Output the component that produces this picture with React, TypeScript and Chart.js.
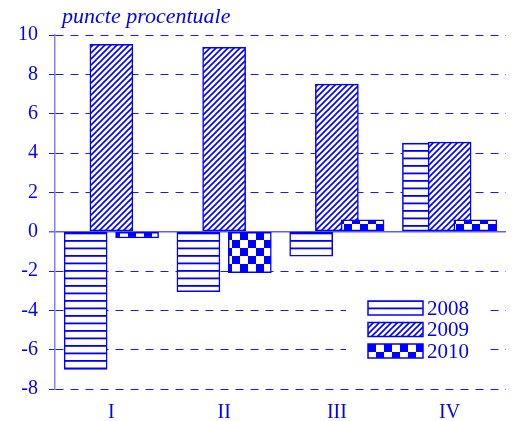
import React, { useEffect, useRef } from 'react';
import { Chart, registerables } from 'chart.js';

Chart.register(...registerables);

const categories = ['I', 'II', 'III', 'IV'];
const seriesNames = ['2008', '2009', '2010'];
const values2008 = [-7.0, -3.05, -1.25, 4.5];
const values2009 = [9.53, 9.37, 7.5, 4.55];
const values2010 = [-0.32, -2.08, 0.6, 0.6];
const yTicks = [10, 8, 6, 4, 2, 0, -2, -4, -6, -8];
const axisTitle = 'puncte procentuale';

const BLUE = '#0000ff';
const SERIF = '"Liberation Serif", "Times New Roman", serif';
const OFFSET = 0.228;

function makeTile(w: number, h: number, draw: (c: CanvasRenderingContext2D) => void) {
  const t = document.createElement('canvas');
  t.width = w;
  t.height = h;
  const c = t.getContext('2d')!;
  c.fillStyle = '#ffffff';
  c.fillRect(0, 0, w, h);
  draw(c);
  return t;
}

export default function App() {
  const ref = useRef<HTMLCanvasElement | null>(null);

  useEffect(() => {
    const canvas = ref.current!;
    const ctx = canvas.getContext('2d')!;

    const hTile = makeTile(4, 15, (c) => {
      c.fillStyle = BLUE;
      c.fillRect(0, 0, 4, 1.8);
      c.fillRect(0, 7.5, 4, 1.8);
    });
    const dTile = makeTile(6, 6, (c) => {
      c.strokeStyle = BLUE;
      c.lineWidth = 1.6;
      c.beginPath();
      c.moveTo(-1, 7);
      c.lineTo(7, -1);
      c.moveTo(-4, 4);
      c.lineTo(4, -4);
      c.moveTo(2, 10);
      c.lineTo(10, 2);
      c.stroke();
    });
    const cTile = makeTile(16, 16, (c) => {
      c.fillStyle = BLUE;
      c.fillRect(8, 0, 8, 8);
      c.fillRect(0, 8, 8, 8);
    });
    const patterns = [
      ctx.createPattern(hTile, 'repeat')!,
      ctx.createPattern(dTile, 'repeat')!,
      ctx.createPattern(cTile, 'repeat')!,
    ];
    const seriesValues = [values2008, values2009, values2010];
    const offsets = [-OFFSET, 0, OFFSET];

    const overlay = {
      id: 'overlay',
      afterDatasetsDraw(chart: any) {
        const c = chart.ctx as CanvasRenderingContext2D;
        c.save();
        // title
        c.fillStyle = BLUE;
        c.font = `italic 22px ${SERIF}`;
        c.textBaseline = 'alphabetic';
        c.textAlign = 'left';
        c.fillText(axisTitle, 62, 23);
        // legend
        c.fillStyle = '#ffffff';
        c.fillRect(346, 296, 144, 66);
        const rows = [301, 322.5, 344];
        seriesNames.forEach((name, i) => {
          const y = rows[i];
          c.fillStyle = patterns[i];
          c.fillRect(368, y, 55, 14);
          c.strokeStyle = BLUE;
          c.lineWidth = 1.5;
          c.strokeRect(368, y, 55, 14);
          c.fillStyle = BLUE;
          c.font = `21px ${SERIF}`;
          c.textBaseline = 'middle';
          c.textAlign = 'left';
          c.fillText(name, 427, y + 8);
        });
        c.restore();
      },
    };

    const chart = new Chart(canvas, {
      type: 'bar',
      data: {
        datasets: seriesNames.map((name, s) => ({
          label: name,
          data: seriesValues[s].map((v, i) => ({ x: i + 1 + offsets[s], y: v })),
          backgroundColor: patterns[s],
          borderColor: BLUE,
          borderWidth: 1.5,
          borderSkipped: false,
          order: 3 - s,
          grouped: false,
          barThickness: 43,
        })) as any,
      },
      options: {
        responsive: false,
        animation: false,
        layout: { padding: { top: 35, left: 0, right: 6, bottom: 0 } },
        plugins: {
          legend: { display: false },
          tooltip: { enabled: false },
          title: { display: false },
        },
        scales: {
          x: {
            type: 'linear',
            min: 0.5,
            max: 4.5,
            offset: false,
            afterBuildTicks: (s: any) => {
              s.ticks = categories.map((_, i) => ({ value: i + 1 }));
            },
            afterFit: (s: any) => {
              s.height = 32;
            },
            ticks: {
              callback: (v: any) => categories[Math.round(Number(v)) - 1] ?? '',
              color: BLUE,
              font: { family: SERIF, size: 20 },
              padding: 12,
              maxRotation: 0,
              autoSkip: false,
            },
            grid: { display: false, drawTicks: false, offset: false },
            border: { display: false },
          },
          y: {
            type: 'linear',
            min: -8,
            max: 10,
            afterBuildTicks: (s: any) => {
              s.ticks = yTicks.map((v) => ({ value: v }));
            },
            afterFit: (s: any) => {
              s.width = 55;
            },
            ticks: {
              color: BLUE,
              font: { family: SERIF, size: 20 },
              padding: 11,
              callback: (v: any) => String(v),
            },
            grid: {
              color: (ctx: any) => (ctx.tick && ctx.tick.value === 0 ? 'rgba(40,40,255,0.75)' : 'rgba(0,0,255,0.9)'),
              lineWidth: (ctx: any) => (ctx.tick && ctx.tick.value === 0 ? 1.5 : 1),
              tickLength: 6,
            },
            border: {
              display: true,
              color: 'rgba(0,0,255,0.5)',
              width: 1.5,
              dash: (ctx: any) => (ctx.type === 'tick' && ctx.tick && ctx.tick.value !== 0 ? [8, 7] : []),
            },
          },
        },
      } as any,
      plugins: [overlay],
    });

    return () => chart.destroy();
  }, []);

  return (
    <div style={{ position: 'absolute', left: 0, top: 0, width: 512, height: 421, background: '#fff' }}>
      <canvas ref={ref} width={512} height={421} style={{ display: 'block' }} />
    </div>
  );
}
